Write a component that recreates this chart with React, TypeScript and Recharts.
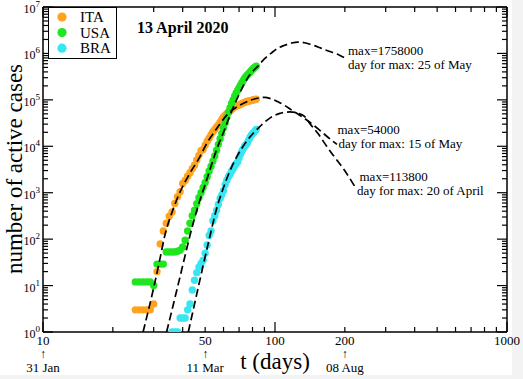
import React from 'react';
import { ComposedChart, Line, XAxis, YAxis } from 'recharts';

const FONT = '"Liberation Serif", "Times New Roman", Times, serif';

// ---------- series meta ----------
const seriesNames = ['ITA', 'USA', 'BRA'];
const seriesColors = ['#ffa31f', '#1fe61f', '#38e6f2'];

// ---------- data (day t, active cases) ----------
const itaDays = [25, 26, 27, 28, 29, 30, 31, 32, 33, 34, 35, 36, 37, 38, 39, 40, 41, 42, 43, 44, 45, 46, 47, 48, 49, 50, 51, 52, 53, 54, 55, 56, 57, 58, 59, 60, 61, 62, 63, 64, 65, 66, 67, 68, 69, 70, 71, 72, 73, 74, 75, 76, 77, 78, 79, 80, 81, 82, 83];
const itaValues = [3, 3, 3, 3, 3, 4, 20, 79, 150, 221, 311, 385, 588, 821, 1049, 1577, 1835, 2263, 2706, 3296, 3916, 5061, 6387, 7985, 8514, 10590, 12839, 14955, 17750, 20603, 23073, 26062, 28710, 33190, 37860, 42681, 46638, 50418, 54030, 57521, 62013, 66414, 70065, 73880, 75528, 77635, 80572, 83049, 85388, 88274, 91246, 93187, 94067, 95262, 96877, 98273, 100269, 102253, 103616];

const usaDays = [25, 26, 27, 28, 29, 30, 31, 32, 33, 34, 35, 36, 37, 38, 39, 40, 41, 42, 43, 44, 45, 46, 47, 48, 49, 50, 51, 52, 53, 54, 55, 56, 57, 58, 59, 60, 61, 62, 63, 64, 65, 66, 67, 68, 69, 70, 71, 72, 73, 74, 75, 76, 77, 78, 79, 80, 81, 82, 83];
const usaValues = [12, 12, 12, 12, 12, 10, 29, 29, 29, 53, 53, 53, 53, 55, 58, 68, 95, 150, 220, 320, 420, 580, 780, 1000, 1300, 1650, 2200, 2900, 3700, 4800, 6200, 8200, 11000, 14500, 19000, 25000, 32000, 42000, 54000, 68000, 84000, 100000, 120000, 140000, 160000, 183000, 208000, 235000, 263000, 292000, 318000, 342000, 368000, 395000, 425000, 455000, 482000, 507000, 530000];

const braDays = [36, 37, 38, 39, 40, 41, 42, 43, 44, 45, 46, 47, 48, 49, 50, 51, 52, 53, 54, 55, 56, 57, 58, 59, 60, 61, 62, 63, 64, 65, 66, 67, 68, 69, 70, 71, 72, 73, 74, 75, 76, 77, 78, 79, 80, 81, 82, 83];
const braValues = [1, 1, 1, 2, 2, 2, 3, 4, 8, 13, 19, 25, 30, 35, 50, 75, 120, 150, 250, 320, 420, 560, 750, 900, 1100, 1500, 1850, 2200, 2500, 2900, 3300, 3800, 4200, 4600, 5600, 6700, 7800, 8800, 10000, 10800, 11800, 13600, 15500, 17300, 18700, 19900, 21300, 23000];

// ---------- fitted curves ----------
const itaFitDays = [27, 30, 32, 33.5, 36, 39, 43, 47.5, 51, 55, 62, 70.6, 77, 83, 90, 96, 103, 110, 118, 134, 153, 175, 185];
const itaFitValues = [1, 9, 40, 120, 380, 1050, 2640, 6000, 12000, 21000, 47000, 77000, 95000, 107000, 113000, 106000, 91000, 76000, 60000, 40000, 24000, 13600, 11000];

const usaFitDays = [34.1, 37.5, 41, 43, 45, 47.5, 50, 52.5, 55, 57.5, 60, 63, 66, 70, 74, 78, 84.6, 90, 96.7, 103, 110, 118, 125.6, 134, 143, 153, 164, 176, 188, 200];
const usaFitValues = [1, 7, 45, 120, 280, 700, 1500, 3200, 6500, 12000, 20000, 38000, 68000, 130000, 230000, 350000, 540000, 760000, 1030000, 1300000, 1500000, 1680000, 1758000, 1700000, 1550000, 1380000, 1200000, 1060000, 940000, 800000];

const braFitDays = [42.3, 45, 48, 52.5, 56, 60, 64, 68.5, 75.6, 86, 94.7, 105, 116, 125, 134, 142, 153, 167, 180, 197, 221];
const braFitValues = [1, 4, 17, 120, 450, 1300, 3000, 6000, 13000, 26500, 40000, 51000, 55000, 52000, 44000, 30000, 19000, 10000, 6000, 3300, 1350];

// ---------- ticks & labels ----------
const xTicks = [10, 20, 30, 40, 50, 60, 70, 80, 90, 100, 200, 300, 400, 500, 600, 700, 800, 900, 1000];
const xTickLabels = [10, 50, 100, 200, 1000];
const dateTicks = [10, 50, 200];
const dateLabels = ['31 Jan', '11 Mar', '08 Aug'];
const yTicks = [
  1, 2, 3, 4, 5, 6, 7, 8, 9,
  10, 20, 30, 40, 50, 60, 70, 80, 90,
  100, 200, 300, 400, 500, 600, 700, 800, 900,
  1000, 2000, 3000, 4000, 5000, 6000, 7000, 8000, 9000,
  10000, 20000, 30000, 40000, 50000, 60000, 70000, 80000, 90000,
  100000, 200000, 300000, 400000, 500000, 600000, 700000, 800000, 900000,
  1000000, 2000000, 3000000, 4000000, 5000000, 6000000, 7000000, 8000000, 9000000,
  10000000,
];
const titleText = '13 April 2020';
const xLabel = 't (days)';
const yLabel = 'number of active cases';
const usaNote = ['max=1758000', 'day for max: 25 of May'];
const braNote = ['max=54000', 'day for max: 15 of May'];
const itaNote = ['max=113800', 'day for max: 20 of April'];

const zip = (days: number[], vals: number[]) => days.map((t, i) => ({ t, v: vals[i] }));
const itaData = zip(itaDays, itaValues);
const usaData = zip(usaDays, usaValues);
const braData = zip(braDays, braValues);
const itaFit = zip(itaFitDays, itaFitValues);
const usaFit = zip(usaFitDays, usaFitValues);
const braFit = zip(braFitDays, braFitValues);

const isDecade = (v: number) => Math.abs(Math.log10(v) - Math.round(Math.log10(v))) < 1e-6;

const XTickBottom = (props: any) => {
  const { x, y, payload } = props;
  const v = payload.value;
  const len = isDecade(v) ? 10 : 5;
  const di = dateTicks.indexOf(v);
  return (
    <g>
      <line x1={x} x2={x} y1={y} y2={y - len} stroke="#000" strokeWidth={1.2} />
      {xTickLabels.includes(v) && (
        <text x={x} y={y + 13} textAnchor="middle" fontFamily={FONT} fontSize={13} fill="#000">
          {v}
        </text>
      )}
      {di >= 0 && (
        <g>
          <text x={x} y={y + 26} textAnchor="middle" fontFamily={FONT} fontSize={12} fill="#000">
            ↑
          </text>
          <text x={x} y={y + 40.3} textAnchor="middle" fontFamily={FONT} fontSize={13} fill="#000">
            {dateLabels[di]}
          </text>
        </g>
      )}
    </g>
  );
};

const XTickTop = (props: any) => {
  const { x, y, payload } = props;
  const len = isDecade(payload.value) ? 10 : 5;
  return <line x1={x} x2={x} y1={y} y2={y + len} stroke="#000" strokeWidth={1.2} />;
};

const YTickLeft = (props: any) => {
  const { x, y, payload } = props;
  const v = payload.value;
  const major = isDecade(v);
  const e = Math.round(Math.log10(v));
  return (
    <g>
      <line x1={x} x2={x + (major ? 10 : 5)} y1={y} y2={y} stroke="#000" strokeWidth={1.2} />
      {major && (
        <text x={x - 3} y={y + 6} textAnchor="end" fontFamily={FONT} fontSize={12} fill="#000">
          10
          <tspan dy={-6} fontSize={9}>
            {e}
          </tspan>
        </text>
      )}
    </g>
  );
};

const YTickRight = (props: any) => {
  const { x, y, payload } = props;
  const len = isDecade(payload.value) ? 10 : 5;
  return <line x1={x} x2={x - len} y1={y} y2={y} stroke="#000" strokeWidth={1.2} />;
};

const dot = (color: string) => (p: any) =>
  <circle key={'d' + p.index} cx={p.cx} cy={p.cy} r={3.7} fill={color} stroke="none" />;

const axisLine = { stroke: '#000', strokeWidth: 1.5 };

// shared axes; `visible` false keeps identical geometry but draws nothing
const renderAxes = (visible: boolean) => [
  <XAxis
    key="xb"
    type="number"
    dataKey="t"
    scale="log"
    domain={[10, 1000]}
    allowDataOverflow
    ticks={xTicks}
    interval={0}
    tickLine={false}
    tickSize={0}
    tickMargin={0}
    height={47}
    axisLine={visible ? axisLine : false}
    tick={visible ? <XTickBottom /> : false}
  />,
  <XAxis
    key="xt"
    xAxisId="top"
    orientation="top"
    type="number"
    dataKey="t"
    scale="log"
    domain={[10, 1000]}
    allowDataOverflow
    ticks={xTicks}
    interval={0}
    tickLine={false}
    tickSize={0}
    tickMargin={0}
    height={7}
    axisLine={visible ? axisLine : false}
    tick={visible ? <XTickTop /> : false}
  />,
  <YAxis
    key="yl"
    type="number"
    dataKey="v"
    scale="log"
    domain={[1, 10000000]}
    allowDataOverflow
    ticks={yTicks}
    interval={0}
    tickLine={false}
    tickSize={0}
    tickMargin={0}
    width={43}
    axisLine={visible ? axisLine : false}
    tick={visible ? <YTickLeft /> : false}
  />,
  <YAxis
    key="yr"
    yAxisId="right"
    orientation="right"
    type="number"
    scale="log"
    domain={[1, 10000000]}
    allowDataOverflow
    ticks={yTicks}
    interval={0}
    tickLine={false}
    tickSize={0}
    tickMargin={0}
    width={16}
    axisLine={visible ? axisLine : false}
    tick={visible ? <YTickRight /> : false}
  />,
];

export default function App() {
  const seriesData = [itaData, usaData, braData];
  const fits = [itaFit, usaFit, braFit];
  const margin = { top: 0, right: 0, bottom: 0, left: 0 };
  return (
    <div style={{ position: 'absolute', left: 0, top: 0, width: 523, height: 379, background: '#f3f3f3' }}>
      <div style={{ position: 'absolute', left: 0, top: 0, width: 512, height: 375, background: '#fff' }} />
      <div style={{ position: 'absolute', left: 0, top: 0 }}>
        <ComposedChart width={523} height={379} margin={margin}>
          {renderAxes(true)}
          {seriesData.map((d, i) => (
            <Line
              key={seriesNames[i]}
              name={seriesNames[i]}
              data={d}
              dataKey="v"
              type="linear"
              stroke="none"
              fill={seriesColors[i]}
              dot={dot(seriesColors[i])}
              activeDot={false}
              isAnimationActive={false}
            />
          ))}
        </ComposedChart>
      </div>
      <div style={{ position: 'absolute', left: 0, top: 0 }}>
        <ComposedChart width={523} height={379} margin={margin}>
          {renderAxes(false)}
          {fits.map((d, i) => (
            <Line
              key={'fit' + i}
              data={d}
              dataKey="v"
              type="monotone"
              dot={false}
              activeDot={false}
              stroke="#000"
              strokeWidth={1.7}
              strokeDasharray="8 4"
              legendType="none"
              isAnimationActive={false}
            />
          ))}
        </ComposedChart>
      </div>
      <svg
        width={523}
        height={379}
        style={{ position: 'absolute', left: 0, top: 0, pointerEvents: 'none' }}
        fontFamily={FONT}
      >
        {/* legend */}
        <rect x={48.5} y={7.5} width={68} height={51} fill="#fff" stroke="#000" strokeWidth={1} />
        {seriesNames.map((n, i) => (
          <g key={n}>
            <circle cx={62} cy={17 + i * 15.6} r={4.6} fill={seriesColors[i]} />
            <text x={80} y={22 + i * 15.6} fontSize={15} fill="#000">
              {n}
            </text>
          </g>
        ))}
        {/* title */}
        <text x={137} y={32.5} fontSize={16} fontWeight="bold" fill="#000">
          {titleText}
        </text>
        {/* notes */}
        <text x={348} y={54.5} fontSize={13} fill="#000">{usaNote[0]}</text>
        <text x={348} y={68.5} fontSize={13} fill="#000">{usaNote[1]}</text>
        <text x={337.5} y={133.5} fontSize={13} fill="#000">{braNote[0]}</text>
        <text x={338.5} y={147.5} fontSize={13} fill="#000">{braNote[1]}</text>
        <text x={359.5} y={180.5} fontSize={13} fill="#000">{itaNote[0]}</text>
        <text x={357} y={194.5} fontSize={13} fill="#000">{itaNote[1]}</text>
        {/* axis titles */}
        <text x={275} y={368.5} fontSize={23} textAnchor="middle" fill="#000">
          {xLabel}
        </text>
        <text transform="translate(22,169) rotate(-90)" fontSize={23} textAnchor="middle" fill="#000">
          {yLabel}
        </text>
      </svg>
    </div>
  );
}
